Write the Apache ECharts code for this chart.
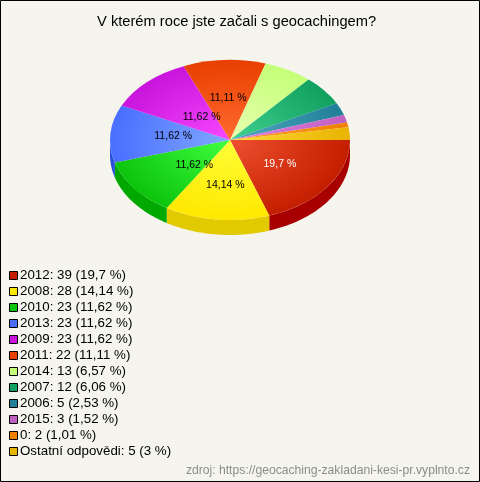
<!DOCTYPE html>
<html><head><meta charset="utf-8">
<style>html,body{margin:0;padding:0;background:#f5f5ee}#c{width:480px;height:482px}</style>
<script src="https://cdn.jsdelivr.net/npm/echarts@6/dist/echarts.min.js"></script>
</head><body><div id="c"></div>
<script>
const categories = ['2012','2008','2010','2013','2009','2011','2014','2007','2006','2015','0','Ostatní odpovědi'];
const counts = [39,28,23,23,23,22,13,12,5,3,2,5];
const percents = ['19,7','14,14','11,62','11,62','11,62','11,11','6,57','6,06','2,53','1,52','1,01','3'];
const edgeColors = ['#c41e00','#ffe800','#0cc40c','#4a6eff','#c814dc','#e84000','#c4ff78','#10a060','#208098','#c060c0','#f08000','#e8b400'];
const lightColors = ['#ee5030','#ffff38','#40ff40','#80a8ff','#f848ff','#ff6a30','#e8ffb0','#40d090','#50a8c0','#e080e0','#ffa030','#ffd838'];
const wallColors = ['#a80000','#e2ca00','#00a800','#2a50d8','#a000b0','#c03000','#a0d860','#008050','#106078','#a040a0','#c86000','#c89800'];
const labelled = [true,true,true,true,true,true,false,false,false,false,false,false];
const labelColors = ['#ffffff','#000','#000','#000','#000','#000'];
const labelNudgeX = [1,2,12,3,13,1];
const labelNudgeY = [1,5,1,-1,6,-2];

const CX = 230, CY = 140, RX = 120, RY = 80, DEPTH = 15;
const total = counts.reduce((a,b)=>a+b,0);
const starts = []; counts.reduce((acc,v,i)=>{starts[i]=acc; return acc+v/total*Math.PI*2;},0);

function renderSlice(i){
  return function(params, api){
    const a0 = starts[i], a1 = a0 + api.value(0)/total*Math.PI*2;
    const children = [];
    const w0 = Math.max(a0, 0), w1 = Math.min(a1, Math.PI);
    if (w1 > w0) {
      const top = [], bottom = [];
      const steps = 40;
      for (let s=0;s<=steps;s++){
        const t = w0 + (w1-w0)*s/steps;
        const x = CX + RX*Math.cos(t), y = CY + RY*Math.sin(t);
        top.push([x,y]); bottom.unshift([x,y+DEPTH]);
      }
      children.push({type:'polygon', shape:{points:top.concat(bottom)}, style:{fill:wallColors[i]}});
    }
    children.push({
      type:'sector', x:CX, y:CY, scaleY:RY/RX,
      shape:{cx:0, cy:0, r0:0, r:RX, startAngle:a0, endAngle:a1, clockwise:true},
      style:{fill:{type:'radial', x:0, y:0, r:RX, global:true,
        colorStops:[{offset:0,color:lightColors[i]},{offset:1,color:edgeColors[i]}]}}
    });
    if (labelled[i]) {
      const m = (a0+a1)/2;
      children.push({type:'text', z2:100,
        x:CX+RX*0.5*Math.cos(m)+labelNudgeX[i], y:CY+RY*0.5*Math.sin(m)+labelNudgeY[i],
        style:{text:percents[i]+' %', fill:labelColors[i], font:'10.5px "Liberation Sans"', align:'center', verticalAlign:'middle'}});
    }
    return {type:'group', children};
  };
}

const legendNames = categories.map((c,i)=>c+': '+counts[i]+' ('+percents[i]+' %)');
const chart = echarts.init(document.getElementById('c'), null, {renderer:'canvas'});
chart.setOption({
  animation:false,
  backgroundColor:'#f5f5ee',
  title:{text:'V kterém roce jste začali s geocachingem?', left:92, top:9,
    textStyle:{fontFamily:'Liberation Sans', fontSize:14.7, fontWeight:'normal', color:'#000'}},
  legend:{orient:'vertical', left:9, top:269, height:205, itemWidth:8, itemHeight:8, itemGap:3, padding:0,
    selectedMode:false, icon:'rect',
    textStyle:{fontFamily:'Liberation Sans', fontSize:13.33, color:'#000', padding:[0,0,0,-2.5]},
    data:legendNames.map((n,i)=>({name:n, itemStyle:{color:edgeColors[i], borderColor:'#000', borderWidth:1}}))},
  xAxis:{show:false}, yAxis:{show:false},
  grid:{left:0,right:0,top:0,bottom:0},
  graphic:[
    {type:'rect', shape:{x:0.5,y:0.5,width:479,height:481}, style:{fill:'none',stroke:'#000',lineWidth:1}, silent:true},
    {type:'text', right:10, top:465, style:{text:'zdroj: https://geocaching-zakladani-kesi-pr.vyplnto.cz', fill:'#8c8c8c', font:'12.15px "Liberation Sans"'}}
  ],
  series:categories.map((c,i)=>({
    type:'custom', name:legendNames[i], coordinateSystem:'none', silent:true,
    itemStyle:{color:edgeColors[i]},
    data:[[counts[i]]], renderItem:renderSlice(i), encode:{value:0}
  }))
});
</script></body></html>
